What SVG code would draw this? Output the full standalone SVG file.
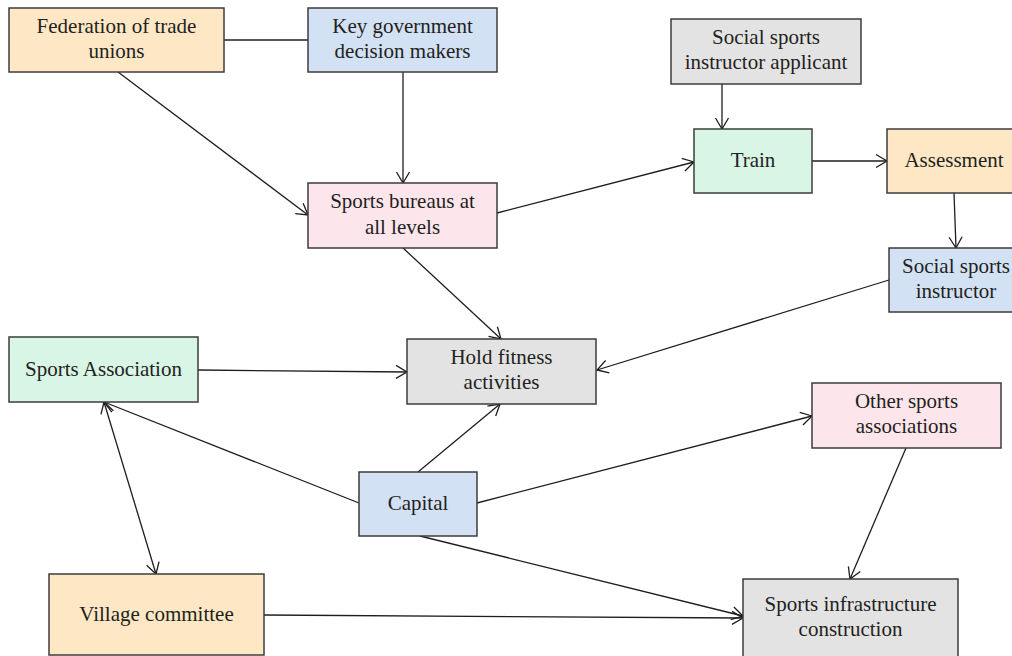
<svg xmlns="http://www.w3.org/2000/svg" width="1012" height="656" viewBox="0 0 1012 656">
<style>
.box{stroke:#3c3c3c;stroke-width:1.5}
.or{fill:#fde7c5}.bl{fill:#d3e1f5}.pk{fill:#fde5ec}.gy{fill:#e3e3e3}.gr{fill:#d8f5e6}
text{font-family:"Liberation Serif","Times New Roman",serif;font-size:21px;fill:#231f20;text-anchor:middle}
.c line{stroke:#1e1e1e;stroke-width:1.3;fill:none}
.a{marker-end:url(#ah)}
.b{marker-end:url(#ah);marker-start:url(#ah)}
</style>
<defs>
<marker id="ah" viewBox="-13 -8 15 16" refX="0" refY="0" markerWidth="15" markerHeight="16" markerUnits="userSpaceOnUse" orient="auto-start-reverse">
<path d="M-11,-6.5 L0,0 L-11,6.5" fill="none" stroke="#1e1e1e" stroke-width="1.3"/>
</marker>
</defs>
<rect width="1012" height="656" fill="#ffffff"/>
<g id="connectors" class="c">
<line x1="224" y1="40" x2="308" y2="40"/>
<line class="a" x1="118" y1="72" x2="308" y2="215"/>
<line class="a" x1="403" y1="72" x2="403" y2="183"/>
<line class="a" x1="722" y1="84" x2="722" y2="129"/>
<line class="a" x1="497" y1="213" x2="694" y2="162"/>
<line class="a" x1="812" y1="161" x2="887" y2="161"/>
<line class="a" x1="954" y1="193" x2="956" y2="248"/>
<line class="a" x1="889" y1="280" x2="597" y2="370"/>
<line class="a" x1="403" y1="248" x2="501" y2="339"/>
<line class="a" x1="198" y1="370" x2="407" y2="372"/>
<line class="a" x1="418" y1="472" x2="500" y2="404"/>
<line class="a" x1="359" y1="503" x2="104" y2="402"/>
<line class="b" x1="104" y1="402" x2="156" y2="574"/>
<line class="a" x1="477" y1="503" x2="812" y2="416"/>
<line class="a" x1="420" y1="536" x2="743" y2="616"/>
<line class="a" x1="264" y1="615" x2="743" y2="618"/>
<line class="a" x1="906" y1="448" x2="850" y2="579"/>
</g>
<g id="federation"><rect class="box or" x="9" y="8" width="215" height="64"/><text x="116.5" y="32.5">Federation of trade</text><text x="116.5" y="58">unions</text></g>
<g id="key-government"><rect class="box bl" x="308" y="8" width="189" height="64"/><text x="402.5" y="32.5">Key government</text><text x="402.5" y="58">decision makers</text></g>
<g id="sports-bureaus"><rect class="box pk" x="308" y="183" width="189" height="65"/><text x="402.5" y="208">Sports bureaus at</text><text x="402.5" y="233.5">all levels</text></g>
<g id="applicant"><rect class="box gy" x="671" y="19" width="190" height="65"/><text x="766" y="44">Social sports</text><text x="766" y="69">instructor applicant</text></g>
<g id="train"><rect class="box gr" x="694" y="129" width="118" height="64"/><text x="753" y="166.5">Train</text></g>
<g id="assessment"><rect class="box or" x="887" y="129" width="134" height="64"/><text x="954" y="166.5">Assessment</text></g>
<g id="social-instructor"><rect class="box bl" x="889" y="248" width="134" height="64"/><text x="956" y="273">Social sports</text><text x="956" y="298">instructor</text></g>
<g id="hold-fitness"><rect class="box gy" x="407" y="339" width="189" height="65"/><text x="501.5" y="363.5">Hold fitness</text><text x="501.5" y="388.5">activities</text></g>
<g id="sports-association"><rect class="box gr" x="9" y="337" width="189" height="65"/><text x="103.5" y="375.5">Sports Association</text></g>
<g id="capital"><rect class="box bl" x="359" y="472" width="118" height="64"/><text x="418" y="510">Capital</text></g>
<g id="other-associations"><rect class="box pk" x="812" y="383" width="189" height="65"/><text x="906.5" y="408">Other sports</text><text x="906.5" y="433">associations</text></g>
<g id="village-committee"><rect class="box or" x="49" y="574" width="215" height="81"/><text x="156.5" y="620.5">Village committee</text></g>
<g id="infrastructure"><rect class="box gy" x="743" y="579" width="215" height="81"/><text x="850.5" y="611">Sports infrastructure</text><text x="850.5" y="636">construction</text></g>
</svg>
